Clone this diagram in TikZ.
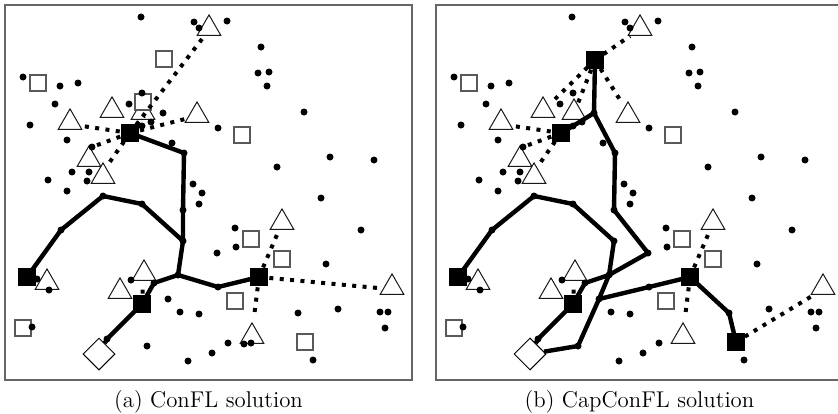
\documentclass[tikz,border=0pt]{standalone}
\usetikzlibrary{shapes.geometric}
\tikzset{
 cust/.style={circle,fill=black,inner sep=0pt,minimum size=3.5pt},
 vdot/.style={circle,fill=black,inner sep=0pt,minimum size=3.5pt},
 hsq/.style={rectangle,draw=black!65,fill=white,line width=0.6pt,inner sep=0pt,minimum size=8pt},
 bsq/.style={rectangle,fill=black,inner sep=0pt,minimum size=8.6pt},
 tri/.style={regular polygon,regular polygon sides=3,draw=black!90,fill=white,line width=0.5pt,inner sep=0pt,minimum size=13.6pt,yshift=-1.75pt},
 rootd/.style={diamond,draw=black,fill=white,line width=0.5pt,inner sep=0pt,minimum size=16pt},
 tree/.style={line width=2.2pt,line join=round},
 assign/.style={line width=2pt,dash pattern=on 2pt off 3.2pt},
 panelframe/.style={draw=black!60,line width=0.6pt},
 captxt/.style={anchor=base,font=\fontsize{11.4}{14}\selectfont},
}
\newcommand{\markersCommon}{%
 \foreach \n/\px/\py in {T1/209/25,T2/112/107,T3/143/109,T4/197/112,T5/70/119,T6/89/156,T7/103/173,T8/47/279,T9/144/270,T10/120/288,T11/282/219,T12/392/284,T13/252/333}
  {\node[tri] (\n) at (\px,\py) {};}
 \foreach \n/\px/\py in {S2/38/83,S4/242/135,S5/251/239,S6/282/259,S7/235/301,S9/23/328}
  {\node[hsq] (\n) at (\px,\py) {};}
 \node[rootd] (R) at (99,354) {};
}
\newcommand{\pointsCommon}{%
 \foreach \px/\py [count=\i] in {141/17,194/22,199/28,227/21,261/47,258/73,269/72,267/86,23/77,60/86,78/83,55/104,129/104,142/93,30/125,151/122,218/128,304/112,67/140,172/143,330/157,374/160,277/167,72/172,89/172,87/181,48/180,67/191,193/184,202/193,321/198,199/204,361/230,235/228,236/247,326/264,37/279,49/290,131/280,180/312,199/314,338/309,380/312,388/312,385/328,32/327,188/361,212/353,228/343,313/360,92/147}
  {\node[cust] (c\i) at (\px,\py) {};}
 \foreach \n/\px/\py in {v1/184/153,v2/183/210,v3/183/241,v4/142/204,v5/103/196,v6/61/230,v7/178/275,v8/154/283,v9/218/287,v10/107/339,v11/217/253,v12/168/299,v13/147/346,v14/163/113,v15/142/126,v16/298/313}
  {\coordinate (\n) at (\px,\py); \node[vdot] (d\n) at (\px,\py) {};}
 \foreach \n/\px/\py in {pF1/130/133,pF2/27/277,pF3/142/304,pF4/259/277,pF5/164/60,pF6/305/342}
  {\coordinate (\n) at (\px,\py);}
 \foreach \n/\px/\py in {e3/82/126,e4/92/147,e5/107/166,e7/143/284,e8/279/230,e10/254/317}
  {\coordinate (\n) at (\px,\py);}
}
\newcommand{\facilCommon}{%
 \foreach \n in {F1,F2,F3,F4} {\node[bsq] (\n) at (p\n) {};}
}
\begin{document}
\begin{tikzpicture}[x=0.5pt,y=-0.5pt]
\useasboundingbox (0,0) rectangle (838,413);
% ---------------- panel (a)
\begin{scope}[name prefix=a-]
 \markersCommon
 \node[hsq] (S1) at (164,59) {};
 \node[hsq] (S3) at (143,102) {};
 \node[hsq] (S8) at (305,342) {};
 \pointsCommon
 \node[cust] (x1) at (244,344) {};
 \node[cust] (x2) at (251,343) {};
 \coordinate (e1) at (202,39);
 \coordinate (e2) at (185,119);
 \coordinate (e6) at (144,116);
 \coordinate (e9) at (378,288);
 \draw[tree] (pF1) -- (v1) -- (v2) -- (v3) -- (v4) -- (v5) -- (v6) -- (pF2);
 \draw[tree] (v3) -- (v7) -- (v8) -- (pF3) -- (v10) -- (R);
 \draw[tree] (v7) -- (v9) -- (pF4);
 \foreach \e in {e1,e2,e3,e4,e5,e6} {\draw[assign] (pF1) -- (\e);}
 \draw[assign] (pF3) -- (e7);
 \foreach \e in {e8,e9,e10} {\draw[assign] (pF4) -- (\e);}
 \facilCommon
 \draw[panelframe] (5,5) rectangle (412,380);
 \node[captxt] (caption) at (208.5,407.5) {(a) ConFL solution};
\end{scope}
% ---------------- panel (b)
\begin{scope}[name prefix=b-,shift={(431,0)}]
 \markersCommon
 \pointsCommon
 \coordinate (f1) at (199,36);
 \coordinate (f2) at (120,103);
 \coordinate (f3) at (147,103);
 \coordinate (f4) at (191,103);
 \coordinate (f5) at (381,296);
 \draw[tree] (pF5) -- (v14) -- (v1) -- (v2) -- (v11) -- (v7) -- (v8) -- (pF3) -- (v10) -- (R);
 \draw[tree] (pF1) -- (v15) -- (v14);
 \draw[tree] (pF2) -- (v6) -- (v5) -- (v4) -- (v3) -- (v7) -- (v12) -- (v13) -- (R);
 \draw[tree] (v12) -- (v9) -- (pF4) -- (v16) -- (pF6);
 \foreach \e in {f1,f2,f3,f4} {\draw[assign] (pF5) -- (\e);}
 \foreach \e in {e3,e4,e5} {\draw[assign] (pF1) -- (\e);}
 \draw[assign] (pF3) -- (e7);
 \foreach \e in {e8,e10} {\draw[assign] (pF4) -- (\e);}
 \draw[assign] (pF6) -- (f5);
 \facilCommon
 \node[bsq] (F5) at (pF5) {};
 \node[bsq] (F6) at (pF6) {};
 \draw[panelframe] (412,5) -- (5,5) -- (5,380) -- (412,380);
 \node[captxt] (caption) at (208.5,407.5) {(b) CapConFL solution};
\end{scope}
\end{tikzpicture}
\end{document}
